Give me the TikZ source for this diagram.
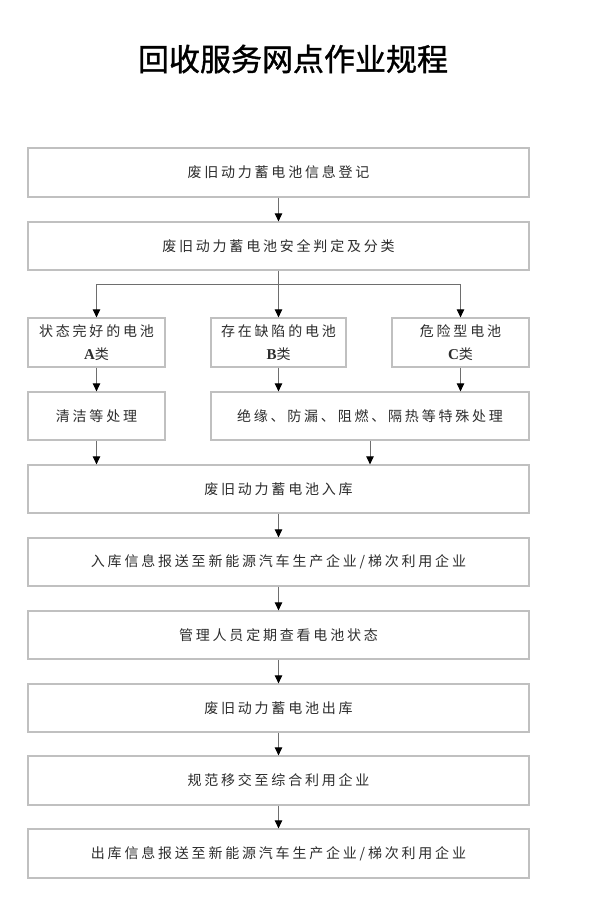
\documentclass[tikz,border=0pt]{standalone}
\usepackage{fontspec}
\usetikzlibrary{arrows.meta}
\newfontfamily\cjkfont[LetterSpace=20]{Noto Sans CJK SC}
\newfontfamily\titlefont[FakeBold=1.2]{Noto Sans CJK SC}
\newfontfamily\latinfont{Liberation Serif}
\definecolor{boxline}{RGB}{192,192,192}
\definecolor{txt}{RGB}{45,45,45}
\definecolor{arrline}{RGB}{110,110,110}
\tikzset{
  box/.style={draw=boxline, line width=1.3pt, fill=white, inner sep=0pt,
    minimum height=48pt, text=txt, align=center,
    font=\fontsize{14}{23}\selectfont\cjkfont},
  wide/.style={box, minimum width=501pt},
  small/.style={box, minimum width=137pt},
  arr/.style={draw=arrline, line width=0.8pt, -{Triangle[length=8pt,width=7.5pt,color=black,fill=black]}},
  plain/.style={draw=arrline, line width=0.8pt}
}
\begin{document}
\begin{tikzpicture}[x=1pt,y=-1pt]
\useasboundingbox[fill=white] (0,0) rectangle (600,902);
\node[font=\fontsize{31}{36}\selectfont\titlefont, text=black] (title) at (293,59) {回收服务网点作业规程};

\node[wide, minimum height=49pt] (b1) at (278.5,172.5) {废旧动力蓄电池信息登记};
\node[wide] (b2) at (278.5,246) {废旧动力蓄电池安全判定及分类};
\node[small, minimum height=49pt] (A) at (96.5,342.5) {状态完好的电池\\{\latinfont\bfseries\fontsize{15}{23}\selectfont A}类};
\node[box, minimum width=135pt, minimum height=49pt] (B) at (278.5,342.5) {存在缺陷的电池\\{\latinfont\bfseries\fontsize{15}{23}\selectfont B}类};
\node[small, minimum height=49pt] (C) at (460.5,342.5) {危险型电池\\{\latinfont\bfseries\fontsize{15}{23}\selectfont C}类};
\node[small] (clean) at (96.5,416) {清洁等处理};
\node[box, minimum width=318pt] (special) at (370,416) {绝缘、防漏、阻燃、隔热等特殊处理};
\node[wide] (store) at (278.5,489) {废旧动力蓄电池入库};
\node[wide] (s5) at (278.5,562) {入库信息报送至新能源汽车生产企业/梯次利用企业};
\node[wide] (s6) at (278.5,635) {管理人员定期查看电池状态};
\node[wide] (s7) at (278.5,708) {废旧动力蓄电池出库};
\node[wide, minimum height=49pt] (s8) at (278.5,780.5) {规范移交至综合利用企业};
\node[wide, minimum height=49pt] (s9) at (278.5,853.5) {出库信息报送至新能源汽车生产企业/梯次利用企业};

\draw[arr] (b1.south) -- (b2.north);
\draw[plain] (b2.south) -- ++(0,14) coordinate (j);
\draw[arr] (j) -| (A.north);
\draw[arr] (j) -| (C.north);
\draw[arr] (j) -- (B.north);
\draw[arr] (A.south) -- (clean.north);
\draw[arr] (B.south) -- (B.south |- special.north);
\draw[arr] (C.south) -- (C.south |- special.north);
\draw[arr] (clean.south) -- (clean.south |- store.north);
\draw[arr] (special.south) -- (special.south |- store.north);
\draw[arr] (store.south) -- (s5.north);
\draw[arr] (s5.south) -- (s6.north);
\draw[arr] (s6.south) -- (s7.north);
\draw[arr] (s7.south) -- (s8.north);
\draw[arr] (s8.south) -- (s9.north);
\end{tikzpicture}
\end{document}
